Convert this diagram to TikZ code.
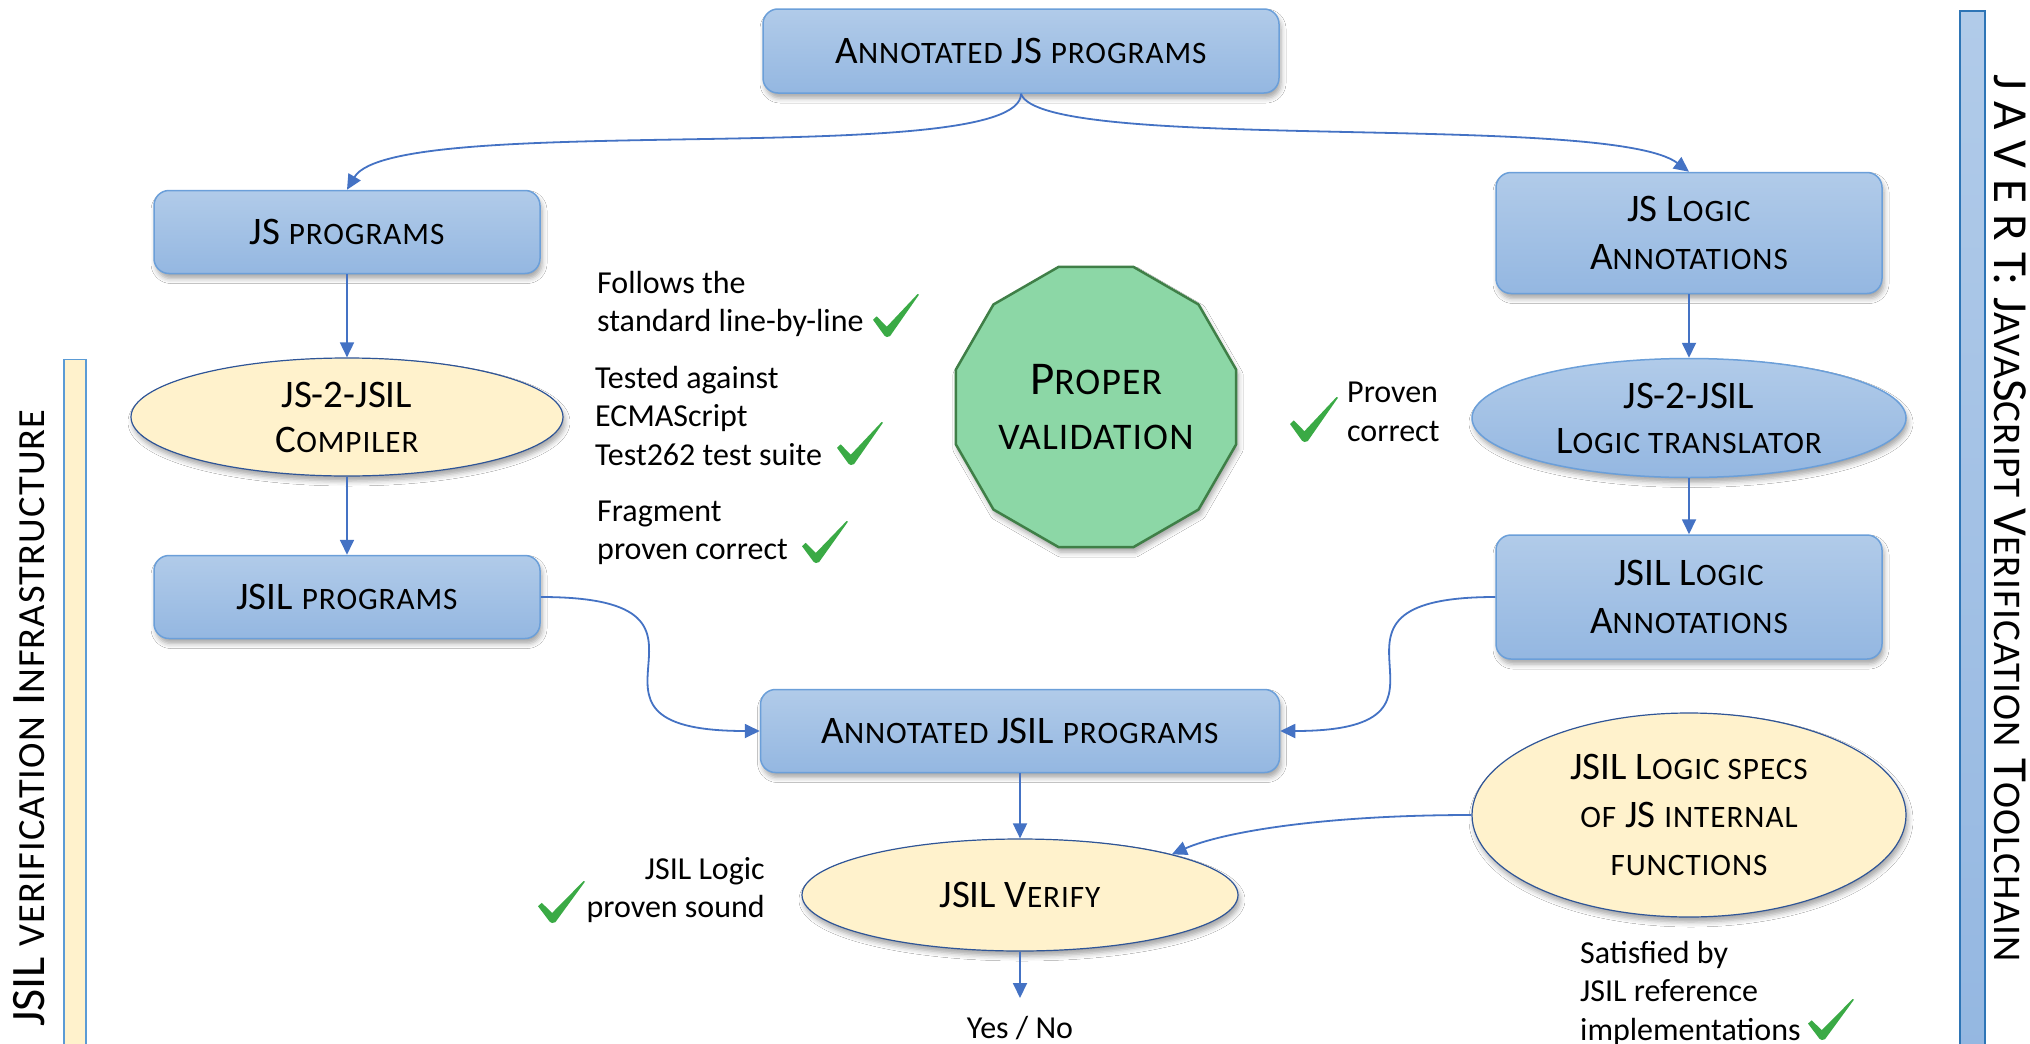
\documentclass[tikz,border=0pt]{standalone}
\usepackage{fontspec}
\setmainfont{Carlito}
\usetikzlibrary{shapes.geometric,arrows.meta,shadows.blur}

\definecolor{arrowblue}{HTML}{4472C4}
\definecolor{boxtop}{HTML}{B1CBE9}
\definecolor{boxbot}{HTML}{94B7E1}
\definecolor{boxedge}{HTML}{6B9FD9}
\definecolor{paleyellow}{HTML}{FFF2CC}
\definecolor{darkedge}{HTML}{2F5597}
\definecolor{validfill}{HTML}{8CD7A6}
\definecolor{validedge}{HTML}{3F7F47}
\definecolor{tickgreen}{HTML}{3AAA45}
\definecolor{baredge}{HTML}{2E75B6}
\definecolor{infraedge}{HTML}{5B9BD5}

% hand-made small capitals: capitals set at 80% of the current size, slightly spaced
\makeatletter
\newcommand\smc[1]{{\fontsize{\strip@pt\dimexpr 80\dimexpr\f@size pt\relax/100\relax}{\f@baselineskip}\selectfont
  \addfontfeature{LetterSpace=3}#1}}
\makeatother
\newcommand\boxfont{\fontsize{39}{48}\selectfont}
\newcommand\notefont{\fontsize{32}{38.5}\selectfont}
\newcommand\validfont{\fontsize{47}{55}\selectfont}
\newcommand\sidefont{\fontsize{48}{56}\selectfont}
\newcommand\javertfont{\fontsize{49}{56}\selectfont}

\tikzset{
  softshadow/.style={blur shadow={shadow xshift=2pt, shadow yshift=-5pt, shadow blur radius=5pt, shadow opacity=35}},
  bluebox/.style={rectangle, rounded corners=15pt, draw=boxedge, line width=1.5pt,
    top color=boxtop, bottom color=boxbot, align=center, font=\boxfont, inner sep=0pt, softshadow},
  yellowell/.style={ellipse, draw=darkedge, line width=1.2pt, fill=paleyellow,
    align=center, font=\boxfont, inner sep=0pt, softshadow},
  blueell/.style={ellipse, draw=boxedge, line width=1.5pt, top color=boxtop, bottom color=boxbot,
    align=center, font=\boxfont, inner sep=0pt, softshadow},
  note/.style={font=\notefont, inner sep=0pt},
  conn/.style={draw=arrowblue, line width=1.8pt, -{Triangle[length=15pt,width=14pt]}},
  tick/.pic={\fill[tickgreen] (0,0.40) -- (0.08,0.48) -- (0.30,0.24) -- (0.97,1.00) -- (1.00,0.985)
      -- (0.37,0.02) -- (0.30,0.00) -- (0.25,0.03) -- cycle;}
}

\begin{document}
\begin{tikzpicture}[x=1pt,y=-1pt]
\path[use as bounding box, fill=white] (0,0) rectangle (2030,1044);

% side bars
\node[draw=infraedge, line width=1.2pt, fill=paleyellow, minimum width=22pt, minimum height=700pt,
  anchor=north, inner sep=0pt] (infrabar) at (75,359) {};
\node[draw=baredge, line width=2pt, top color=boxtop, bottom color=boxbot, minimum width=25pt,
  minimum height=1050pt, anchor=north, inner sep=0pt] (javertbar) at (1972,10) {};
\node[rotate=90, font=\sidefont, inner sep=0pt] (infralabel) at (29,718)
  {JSIL \smc{VERIFICATION} I\smc{NFRASTRUCTURE}};
\node[rotate=-90, font=\javertfont, inner sep=0pt] (javertlabel) at (2010,518)
  {J A V E R T: J\smc{AVA}S\smc{CRIPT} V\smc{ERIFICATION} T\smc{OOLCHAIN}};

% main flow
\node[bluebox, minimum width=516pt, minimum height=84pt] (top) at (1021,51) {A\smc{NNOTATED} JS \smc{PROGRAMS}};
\node[bluebox, minimum width=386pt, minimum height=83pt] (jsprog) at (347,232) {JS \smc{PROGRAMS}};
\node[yellowell, minimum width=432pt, minimum height=118pt] (compiler) at (347,417) {JS-2-JSIL\\[-3pt]C\smc{OMPILER}};
\node[bluebox, minimum width=386pt, minimum height=83pt] (jsilprog) at (347,597) {JSIL \smc{PROGRAMS}};
\node[bluebox, minimum width=386pt, minimum height=121pt] (jslogic) at (1689,233) {JS L\smc{OGIC}\\A\smc{NNOTATIONS}};
\node[blueell, minimum width=434pt, minimum height=119pt] (translator) at (1689,418) {JS-2-JSIL\\[-3pt]L\smc{OGIC TRANSLATOR}};
\node[bluebox, minimum width=386pt, minimum height=124pt] (jsillogic) at (1689,597) {JSIL L\smc{OGIC}\\A\smc{NNOTATIONS}};
\node[bluebox, minimum width=519pt, minimum height=83pt] (annot) at (1020,731) {A\smc{NNOTATED} JSIL \smc{PROGRAMS}};
\node[yellowell, minimum width=436pt, minimum height=112pt] (verify) at (1020,895) {JSIL V\smc{ERIFY}};
\node[yellowell, minimum width=434pt, minimum height=204pt] (specs) at (1689,815)
  {JSIL L\smc{OGIC SPECS}\\\smc{OF} JS \smc{INTERNAL}\\\smc{FUNCTIONS}};
\node[font=\notefont, inner xsep=0pt, inner ysep=18pt] (yesno) at (1020,1028) {Yes / No};

% validation
\node[regular polygon, regular polygon sides=12, minimum size=290pt, fill=validfill, draw=validedge,
  line width=2.5pt, inner sep=0pt, font=\validfont, align=center, softshadow] (proper) at (1096,407)
  {P\smc{ROPER}\\\smc{VALIDATION}};

% notes
\node[note, align=left, anchor=west] (follows) at (597,304) {Follows the\\standard line-by-line};
\node[note, align=left, anchor=west] (tested) at (595,416) {Tested against\\ECMAScript\\Test262 test suite};
\node[note, align=left, anchor=west] (fragment) at (597,533) {Fragment\\proven correct};
\node[note, align=left, anchor=west] (proven) at (1347,412) {Proven\\correct};
\node[note, align=right, anchor=east] (sound) at (765,890) {JSIL Logic\\proven sound};
\node[note, align=left, anchor=west] (satisfied) at (1580,993) {Satisfied by\\JSIL reference\\implementations};

% ticks
\pic[xscale=46, yscale=-43] at (873,337) {tick};
\pic[xscale=46, yscale=-43] at (837,465) {tick};
\pic[xscale=46, yscale=-42] at (802,563) {tick};
\pic[xscale=48, yscale=-45] at (1290,442) {tick};
\pic[xscale=47, yscale=-42] at (538,923) {tick};
\pic[xscale=46, yscale=-41] at (1808,1040) {tick};

% connectors
\draw[conn] (top.south) .. controls +(0,77) and +(47,-80) .. (jsprog.north);
\draw[conn] (top.south) .. controls +(20,60) and +(-80,-60) .. (jslogic.north);
\draw[conn] (jsprog.south) -- (compiler.north);
\draw[conn] (compiler.south) -- (jsilprog.north);
\draw[conn] (jslogic.south) -- (translator.north);
\draw[conn] (translator.south) -- (jsillogic.north);
\draw[conn] (jsilprog.east) .. controls +(222,0) and +(-222,0) .. (annot.west);
\draw[conn] (jsillogic.west) .. controls +(-216,0) and +(216,0) .. (annot.east);
\draw[conn] (annot.south) -- (verify.north);
\draw[conn] (specs.west) .. controls +(-150,0) and +(50,-22) .. (verify.15);
\draw[conn] (verify.south) -- (yesno.north);
\end{tikzpicture}
\end{document}
